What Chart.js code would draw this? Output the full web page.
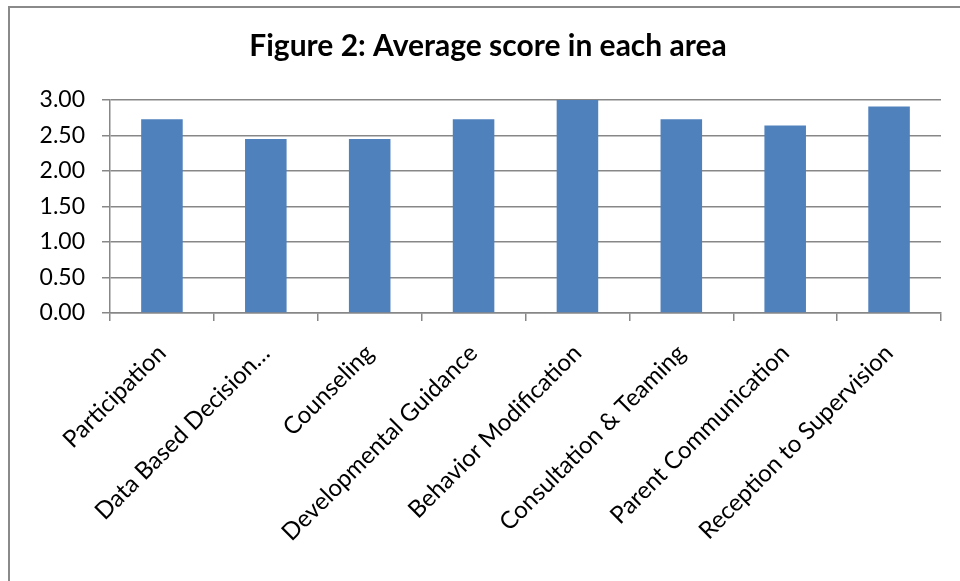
<!DOCTYPE html>
<html>
<head>
<meta charset="utf-8">
<script src="https://cdn.jsdelivr.net/npm/chart.js@4.4.1/dist/chart.umd.min.js"></script>
<style>
  html, body { margin: 0; padding: 0; background: #fff; overflow: hidden; }
  #wrap { position: relative; width: 960px; height: 581px; }
  #frame { position: absolute; left: 8px; top: 6px; width: 960px; height: 600px; border-left: 2px solid #8a8a8a; border-top: 2px solid #8a8a8a; box-sizing: border-box; pointer-events: none; }
  canvas { position: absolute; left: 0; top: 0; }
</style>
</head>
<body>
<div id="wrap">
  <canvas id="c" width="960" height="581"></canvas>
  <div id="frame"></div>
</div>
<script>
const titleText = "Figure 2: Average score in each area";
const categories = [
  "Participation",
  "Data Based Decision…",
  "Counseling",
  "Developmental Guidance",
  "Behavior Modification",
  "Consultation & Teaming",
  "Parent Communication",
  "Reception to Supervision"
];
const scores = [2.73, 2.45, 2.45, 2.73, 3.00, 2.73, 2.64, 2.91];
const yTicks = [0, 0.5, 1, 1.5, 2, 2.5, 3];

const FONT = "Lato, 'Open Sans', sans-serif";
const GRID = "#878787";

const titleDraw = {
  id: "titleDraw",
  afterDraw(chart) {
    const ctx = chart.ctx;
    ctx.save();
    ctx.fillStyle = "#000";
    ctx.font = "bold 30px " + FONT;
    ctx.textAlign = "center";
    ctx.textBaseline = "alphabetic";
    ctx.fillText(titleText, 488, 56);
    ctx.restore();
  }
};

new Chart(document.getElementById("c"), {
  type: "bar",
  data: {
    labels: categories,
    datasets: [{
      data: scores,
      backgroundColor: "#4F81BD",
      borderWidth: 0,
      categoryPercentage: 1.0,
      barPercentage: 0.4
    }]
  },
  plugins: [titleDraw],
  options: {
    responsive: false,
    animation: false,
    devicePixelRatio: 1,
    layout: { padding: { left: 10, right: 19, top: 100, bottom: 0 } },
    plugins: {
      legend: { display: false },
      tooltip: { enabled: false },
      title: { display: false }
    },
    scales: {
      x: {
        grid: {
          display: true,
          drawOnChartArea: false,
          drawTicks: true,
          tickLength: 8,
          color: GRID,
          lineWidth: 1.5,
          offset: true
        },
        border: { display: true, color: GRID, width: 1.5 },
        ticks: {
          color: "#000",
          font: { family: FONT, size: 24 },
          maxRotation: 45,
          minRotation: 45,
          autoSkip: false,
          padding: 18
        },
        afterFit(axis) { axis.height = 268; }
      },
      y: {
        min: 0,
        max: 3,
        afterBuildTicks(axis) { axis.ticks = yTicks.map(v => ({ value: v })); },
        grid: {
          color: GRID,
          lineWidth: 1.5,
          tickLength: 8,
          drawTicks: true
        },
        border: { display: true, color: GRID, width: 1.5 },
        ticks: {
          color: "#000",
          font: { family: FONT, size: 23 },
          padding: 17,
          callback: (v) => Number(v).toFixed(2)
        },
        afterFit(axis) { axis.width = 100; }
      }
    }
  }
});
</script>
</body>
</html>
